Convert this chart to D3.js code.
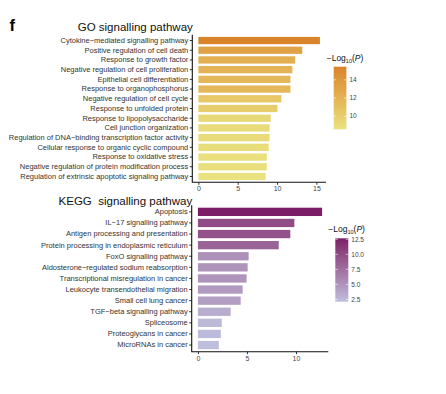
<!DOCTYPE html>
<html>
<head>
<meta charset="utf-8">
<script src="https://cdn.jsdelivr.net/npm/d3@7"></script>
<style>
  body { margin: 0; background: #fff; }
  svg { display: block; font-family: "Liberation Sans", Arial, sans-serif; }
  .title { white-space: pre; }
</style>
</head>
<body>
<script>

// GO terms and -log10(P)
var goTerms = [
  'Cytokine\u2212mediated signalling pathway',
  'Positive regulation of cell death',
  'Response to growth factor',
  'Negative regulation of cell proliferation',
  'Epithelial cell differentiation',
  'Response to organophosphorus',
  'Negative regulation of cell cycle',
  'Response to unfolded protein',
  'Response to lipopolysaccharide',
  'Cell junction organization',
  'Regulation of DNA\u2212binding transcription factor activity',
  'Cellular response to organic cyclic compound',
  'Response to oxidative stress',
  'Negative regulation of protein modification process',
  'Regulation of extrinsic apoptotic signaling pathway'
];
var goValues = [15.45, 13.2, 12.3, 11.95, 11.7, 11.7, 10.55, 10.05, 9.2, 9.05, 9.05, 8.93, 8.7, 8.7, 8.55];
var goTicks = [0, 5, 10, 15];
var goLegendTicks = [10, 12, 14];

// KEGG terms and -log10(P)
var keggTerms = [
  'Apoptosis',
  'IL\u221217 signalling pathway',
  'Antigen processing and presentation',
  'Protein processing in endoplasmic reticulum',
  'FoxO signalling pathway',
  'Aldosterone\u2212regulated sodium reabsorption',
  'Transcriptional misregulation in cancer',
  'Leukocyte transendothelial migration',
  'Small cell lung cancer',
  'TGF\u2212beta signalling pathway',
  'Spliceosome',
  'Proteoglycans in cancer',
  'MicroRNAs in cancer'
];
var keggValues = [12.66, 9.83, 9.42, 8.24, 5.17, 5.07, 4.96, 4.56, 4.36, 3.34, 2.43, 2.33, 2.13];
var keggTicks = [0, 5, 10];
var keggLegendTicks = [2.5, 5, 7.5, 10, 12.5];

var w = 446, h = 394;

var svg = d3.select('body').append('svg')
    .attr('width', w)
    .attr('height', h);

var defs = svg.append('defs');

svg.append('text')
    .attr('x', 9.5)
    .attr('y', 31)
    .attr('font-size', 16.5)
    .attr('font-weight', 'bold')
    .text('f');

function drawPanel(opts) {
    var data = opts.terms.map(function(t, i) { return {term: t, value: opts.values[i]}; });
    var maxV = d3.max(opts.values), minV = d3.min(opts.values);

    var x = d3.scaleLinear()
        .domain([-0.05 * maxV, 1.05 * maxV])
        .range([opts.left, opts.right]);

    var y = d3.scaleBand()
        .domain(opts.terms)
        .range([opts.top, opts.bottom])
        .paddingInner(0.25)
        .paddingOuter(0.225);

    var color = d3.scaleLinear()
        .domain([minV, maxV])
        .range(opts.colors)
        .interpolate(d3.interpolateLab);

    var g = svg.append('g');

    // title
    g.append('text')
        .attr('class', 'title')
        .attr('x', opts.left + 0.5)
        .attr('y', opts.titleY)
        .attr('text-anchor', 'end')
        .attr('font-size', 11.5)
        .attr('fill', '#111')
        .text(opts.title);

    // bars
    g.selectAll('rect.bar')
        .data(data)
        .enter()
        .append('rect')
        .attr('class', 'bar')
        .attr('x', x(0))
        .attr('y', function(d) { return y(d.term); })
        .attr('width', function(d) { return x(d.value) - x(0); })
        .attr('height', y.bandwidth())
        .attr('fill', function(d) { return color(d.value); });

    // y axis
    var yAxis = g.append('g')
        .attr('transform', 'translate(' + opts.left + ',0)')
        .call(d3.axisLeft(y).tickSize(2.5).tickPadding(1.5));
    yAxis.select('.domain').remove();
    yAxis.selectAll('.tick line').attr('stroke', '#333');
    yAxis.selectAll('.tick text')
        .attr('font-size', 7.5)
        .attr('font-family', '"Liberation Sans", Arial, sans-serif')
        .attr('fill', '#333');

    // x axis
    var xAxis = g.append('g')
        .attr('transform', 'translate(0,' + opts.bottom + ')')
        .call(d3.axisBottom(x).tickValues(opts.ticks).tickSize(2.5).tickPadding(1.5));
    xAxis.select('.domain').remove();
    xAxis.selectAll('.tick line').attr('stroke', '#333');
    xAxis.selectAll('.tick text')
        .attr('font-size', 7)
        .attr('font-family', '"Liberation Sans", Arial, sans-serif')
        .attr('fill', '#444');

    // axis lines (L shape)
    g.append('path')
        .attr('d', 'M' + opts.left + ',' + opts.top + 'V' + opts.bottom + 'H' + opts.right)
        .attr('fill', 'none')
        .attr('stroke', '#111')
        .attr('stroke-width', 1.1);

    // legend
    var lg = opts.legend;
    var gradId = 'grad' + opts.id;
    var grad = defs.append('linearGradient')
        .attr('id', gradId)
        .attr('x1', 0).attr('y1', 1).attr('x2', 0).attr('y2', 0);
    d3.range(0, 1.0001, 0.1).forEach(function(t) {
        grad.append('stop')
            .attr('offset', t)
            .attr('stop-color', color(minV + t * (maxV - minV)));
    });

    var title = g.append('text')
        .attr('x', lg.x - 7)
        .attr('y', lg.y - 6)
        .attr('font-size', 8.5)
        .attr('fill', '#111');
    title.append('tspan').text('\u2212Log');
    title.append('tspan').attr('font-size', 5.5).attr('dy', 2).text('10');
    title.append('tspan').attr('dy', -2).text('(');
    title.append('tspan').attr('font-style', 'italic').text('P');
    title.append('tspan').text(')');

    g.append('rect')
        .attr('x', lg.x)
        .attr('y', lg.y)
        .attr('width', lg.w)
        .attr('height', lg.h)
        .attr('fill', 'url(#' + gradId + ')');

    var ly = d3.scaleLinear()
        .domain([minV, maxV])
        .range([lg.y + lg.h, lg.y]);

    var lt = g.selectAll('g.ltick')
        .data(opts.legendTicks)
        .enter()
        .append('g')
        .attr('class', 'ltick')
        .attr('transform', function(d) { return 'translate(0,' + ly(d) + ')'; });
    lt.append('line')
        .attr('x1', lg.x).attr('x2', lg.x + 2.5)
        .attr('stroke', '#fff').attr('stroke-width', 0.6);
    lt.append('line')
        .attr('x1', lg.x + lg.w - 2.5).attr('x2', lg.x + lg.w)
        .attr('stroke', '#fff').attr('stroke-width', 0.6);
    lt.append('text')
        .attr('x', lg.x + lg.w + 3)
        .attr('dy', '0.35em')
        .attr('font-size', 6.5)
        .attr('fill', '#444')
        .text(function(d) { return opts.legendFormat(d); });
}

drawPanel({
    id: 'go',
    title: 'GO signalling pathway',
    titleY: 31,
    terms: goTerms,
    values: goValues,
    ticks: goTicks,
    legendTicks: goLegendTicks,
    legendFormat: d3.format('d'),
    colors: ['#E9E27F', '#D9832A'],
    left: 192.3, right: 326,
    top: 34.7, bottom: 182.3,
    legend: {x: 333.7, y: 66.7, w: 12.7, h: 62.6}
});

drawPanel({
    id: 'kegg',
    title: 'KEGG  signalling pathway',
    titleY: 205,
    terms: keggTerms,
    values: keggValues,
    ticks: keggTicks,
    legendTicks: keggLegendTicks,
    legendFormat: d3.format('.1f'),
    colors: ['#BEBEDD', '#7C1D67'],
    left: 191.7, right: 328.3,
    top: 205.2, bottom: 351.7,
    legend: {x: 335.3, y: 238.3, w: 13, h: 63.4}
});

</script>
</body>
</html>
